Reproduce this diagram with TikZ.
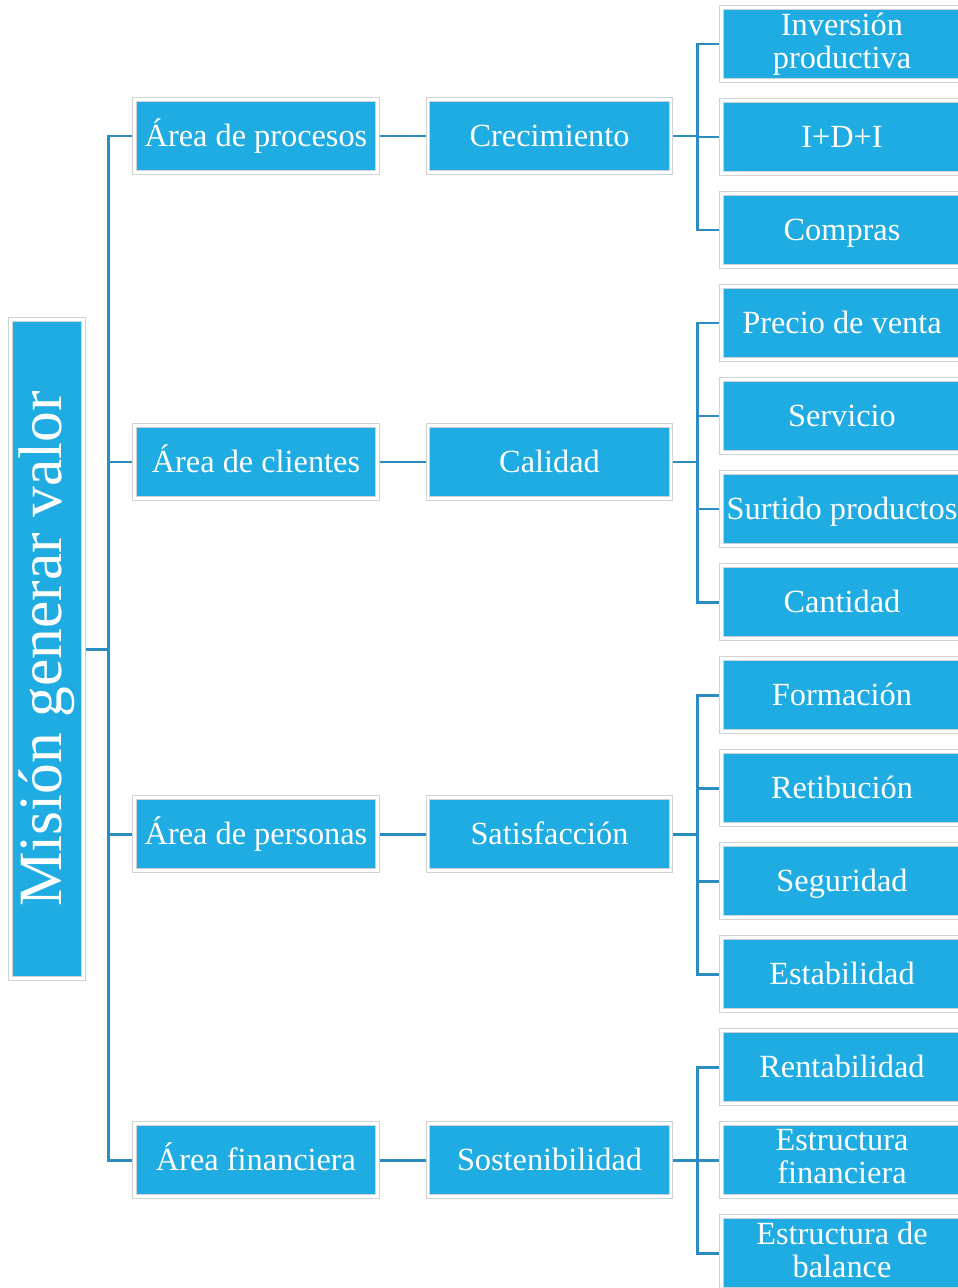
\documentclass[tikz,border=0pt]{standalone}
\usepackage{fontspec}
\setmainfont{Liberation Serif}
\usepackage{xcolor}
\usetikzlibrary{positioning, backgrounds}

\definecolor{boxblue}{HTML}{1FACE2}
\definecolor{linkblue}{HTML}{2A8CC0}
\definecolor{rimgray}{HTML}{D2D2D2}

\tikzset{
    box/.style={rectangle, fill=boxblue, draw=rimgray, double=white, double distance=1.6pt,
        line width=0.4pt, text=white, align=center, font=\fontsize{18.4}{19}\selectfont,
        inner sep=0pt, minimum width=4.86cm, minimum height=1.46cm,
        execute at begin node={\vphantom{Áp}}},
    leaf/.style={box, minimum width=4.82cm},
    rootbox/.style={box, minimum width=1.46cm, minimum height=13.18cm},
    link/.style={draw=linkblue, line width=1.7pt}
}

\begin{document}
\begin{tikzpicture}[x=0.02cm, y=-0.02cm]
        \useasboundingbox (0, 0) rectangle (957, 1288);

        \node[rootbox, execute at begin node={}] (mision) at (47, 649) {};
        \node[rotate=90, text=white, font=\fontsize{35}{36}\selectfont] (misiontxt) at (mision.center) {Misión generar valor};

        \node[box] (procesos) at (256, 136) {Área de procesos};
        \node[box] (clientes) at (256, 462) {Área de clientes};
        \node[box] (personas) at (256, 834) {Área de personas};
        \node[box] (financiera) at (256, 1160) {Área financiera};

        \node[box] (crecimiento) at (549.5, 136) {Crecimiento};
        \node[box] (calidad) at (549.5, 462) {Calidad};
        \node[box] (satisfaccion) at (549.5, 834) {Satisfacción};
        \node[box] (sostenibilidad) at (549.5, 1160) {Sostenibilidad};

        \node[leaf] (inversion) at (842, 44) {Inversión\\productiva};
        \node[leaf] (idi) at (842, 137) {I+D+I};
        \node[leaf] (compras) at (842, 230) {Compras};
        \node[leaf] (precio) at (842, 323) {Precio de venta};
        \node[leaf] (servicio) at (842, 416) {Servicio};
        \node[leaf] (surtido) at (842, 509) {Surtido productos};
        \node[leaf] (cantidad) at (842, 602) {Cantidad};
        \node[leaf] (formacion) at (842, 695) {Formación};
        \node[leaf] (retibucion) at (842, 788) {Retibución};
        \node[leaf] (seguridad) at (842, 881) {Seguridad};
        \node[leaf] (estabilidad) at (842, 974) {Estabilidad};
        \node[leaf] (rentabilidad) at (842, 1067) {Rentabilidad};
        \node[leaf] (estfin) at (842, 1160) {Estructura\\financiera};
        \node[leaf] (estbal) at (842, 1253) {Estructura de\\balance};

        \begin{scope}[on background layer]
        \draw[link] (mision.east) -- ++(25, 0) |- (procesos.west)
            (mision.east) -- ++(25, 0) |- (clientes.west)
            (mision.east) -- ++(25, 0) |- (personas.west)
            (mision.east) -- ++(25, 0) |- (financiera.west);
        \draw[link] (procesos) -- (crecimiento)
            (clientes) -- (calidad)
            (personas) -- (satisfaccion)
            (financiera) -- (sostenibilidad);
        \draw[link] (crecimiento.east) -- ++(26, 0) |- (inversion.west)
            (crecimiento.east) -- ++(26, 0) |- (idi.west)
            (crecimiento.east) -- ++(26, 0) |- (compras.west);
        \draw[link] (calidad.east) -- ++(26, 0) |- (precio.west)
            (calidad.east) -- ++(26, 0) |- (servicio.west)
            (calidad.east) -- ++(26, 0) |- (surtido.west)
            (calidad.east) -- ++(26, 0) |- (cantidad.west);
        \draw[link] (satisfaccion.east) -- ++(26, 0) |- (formacion.west)
            (satisfaccion.east) -- ++(26, 0) |- (retibucion.west)
            (satisfaccion.east) -- ++(26, 0) |- (seguridad.west)
            (satisfaccion.east) -- ++(26, 0) |- (estabilidad.west);
        \draw[link] (sostenibilidad.east) -- ++(26, 0) |- (rentabilidad.west)
            (sostenibilidad.east) -- ++(26, 0) |- (estfin.west)
            (sostenibilidad.east) -- ++(26, 0) |- (estbal.west);
        \end{scope}
    \end{tikzpicture}
\end{document}
